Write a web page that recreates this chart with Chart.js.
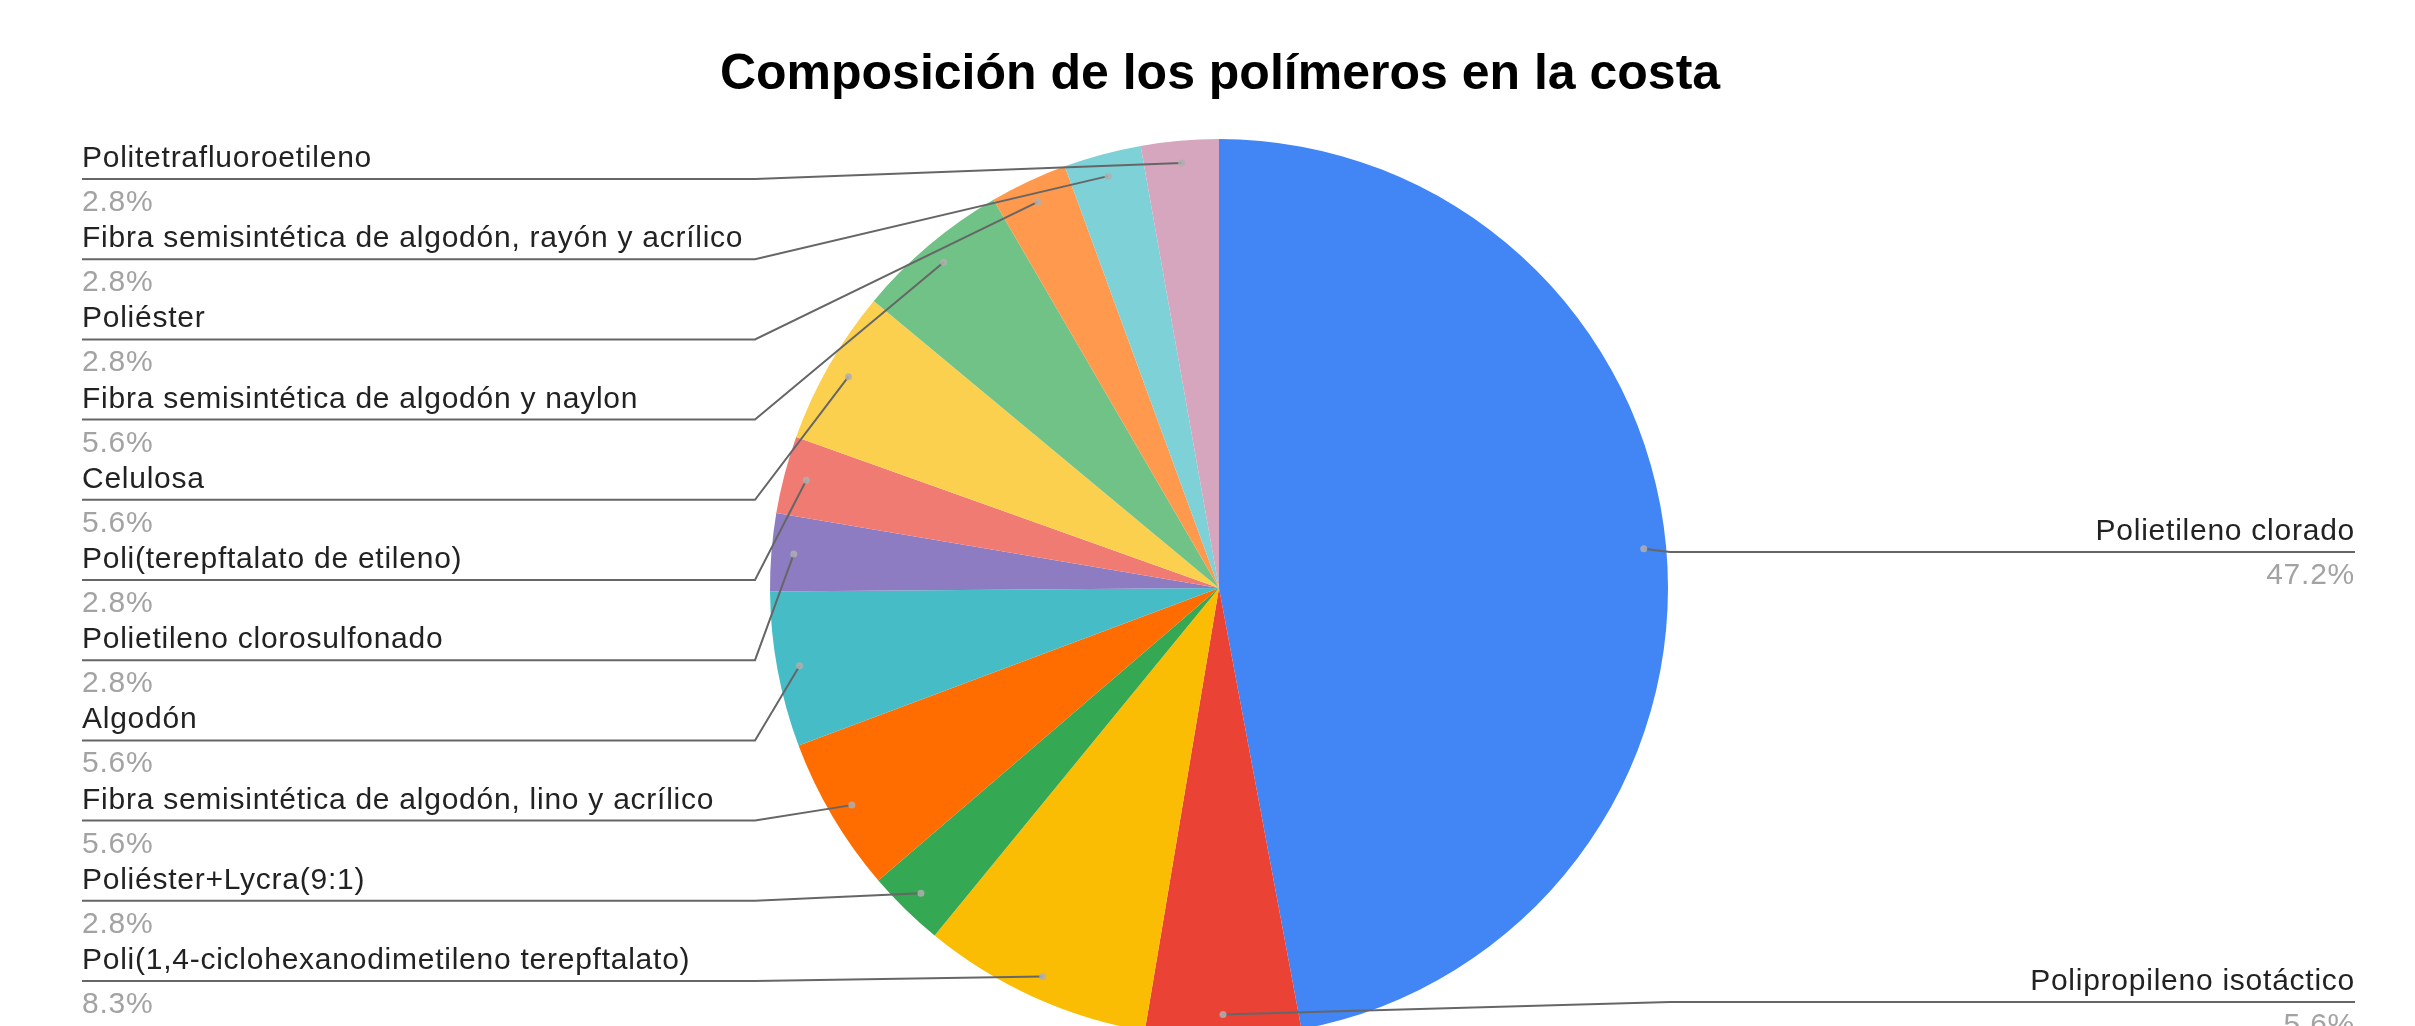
<!DOCTYPE html>
<html lang="es">
<head>
  <meta charset="UTF-8">
  <title>Composición de los polímeros en la costa</title>
  <script src="https://cdn.jsdelivr.net/npm/chart.js"></script>
  <style>
    html, body { margin: 0; padding: 0; background: #fff; overflow: hidden; }
    #chart { display: block; }
  </style>
</head>
<body>

  <canvas id="chart" width="2415" height="1100"></canvas>

  <script>
  const labels = [
    'Polietileno clorado',
    'Polipropileno isotáctico',
    'Poli(1,4-ciclohexanodimetileno terepftalato)',
    'Poliéster+Lycra(9:1)',
    'Fibra semisintética de algodón, lino y acrílico',
    'Algodón',
    'Polietileno clorosulfonado',
    'Poli(terepftalato de etileno)',
    'Celulosa',
    'Fibra semisintética de algodón y naylon',
    'Poliéster',
    'Fibra semisintética de algodón, rayón y acrílico',
    'Politetrafluoroetileno'
  ];
  const percents = [47.2, 5.6, 8.3, 2.8, 5.6, 5.6, 2.8, 2.8, 5.6, 5.6, 2.8, 2.8, 2.8];
  const colors = [
    '#4285f4', '#ea4335', '#fbbc04', '#34a853', '#ff6d01', '#46bdc6', '#8e7cc3',
    '#f07b72', '#fcd04f', '#71c287', '#ff994d', '#7ed1d7', '#d5a6bd'
  ];
  const title = 'Composición de los polímeros en la costa';

  const FONT = '"Liberation Sans", Arial, sans-serif';

  // which slice goes in which row of the left column (top to bottom)
  const leftOrder = [12, 11, 10, 9, 8, 7, 6, 5, 4, 3, 2];
  const rightRowY = { 0: 552, 1: 1002 };

  const callouts = {
    id: 'callouts',
    afterDraw(chart) {
      const ctx = chart.ctx;
      const arcs = chart.getDatasetMeta(0).data;
      ctx.save();

      // title
      ctx.font = 'bold 50px ' + FONT;
      ctx.fillStyle = '#000';
      ctx.textAlign = 'center';
      ctx.textBaseline = 'alphabetic';
      ctx.fillText(title, 1220, 89);

      ctx.letterSpacing = '0.75px';
      arcs.forEach((arc, i) => {
        const p = arc.getProps(['x', 'y', 'startAngle', 'endAngle', 'outerRadius'], true);
        const mid = (p.startAngle + p.endAngle) / 2;
        const r = p.outerRadius * 0.95;
        const dotX = p.x + Math.cos(mid) * r;
        const dotY = p.y + Math.sin(mid) * r;

        const row = leftOrder.indexOf(i);
        let lineY, bendX, endX, align;
        if (row >= 0) {
          lineY = 179 + row * 80.2; bendX = 755; endX = 82; align = 'left';
        } else {
          lineY = rightRowY[i]; bendX = 1670; endX = 2355; align = 'right';
        }

        // leader line + underline
        ctx.strokeStyle = '#666';
        ctx.lineWidth = 2;
        ctx.beginPath();
        ctx.moveTo(dotX, dotY);
        ctx.lineTo(bendX, lineY);
        ctx.lineTo(endX, lineY);
        ctx.stroke();

        ctx.fillStyle = 'rgba(175,175,175,0.85)';
        ctx.beginPath();
        ctx.arc(dotX, dotY, 3.5, 0, Math.PI * 2);
        ctx.fill();

        // texts
        ctx.textAlign = align;
        ctx.font = '30px ' + FONT;
        ctx.fillStyle = '#222';
        ctx.fillText(labels[i], endX, lineY - 12);
        ctx.fillStyle = '#a3a3a3';
        ctx.fillText(percents[i].toFixed(1) + '%', endX, lineY + 32);
      });
      ctx.restore();
    }
  };

  new Chart(document.getElementById('chart'), {
    type: 'pie',
    data: {
      labels: labels,
      datasets: [{
        data: percents,
        backgroundColor: colors,
        borderWidth: 0,
        hoverOffset: 0
      }]
    },
    options: {
      responsive: false,
      animation: false,
      events: [],
      layout: { padding: { top: 139, bottom: 63, left: 400, right: 377 } },
      plugins: {
        legend: { display: false },
        tooltip: { enabled: false },
        title: { display: false }
      }
    },
    plugins: [callouts]
  });
  </script>

</body>
</html>
